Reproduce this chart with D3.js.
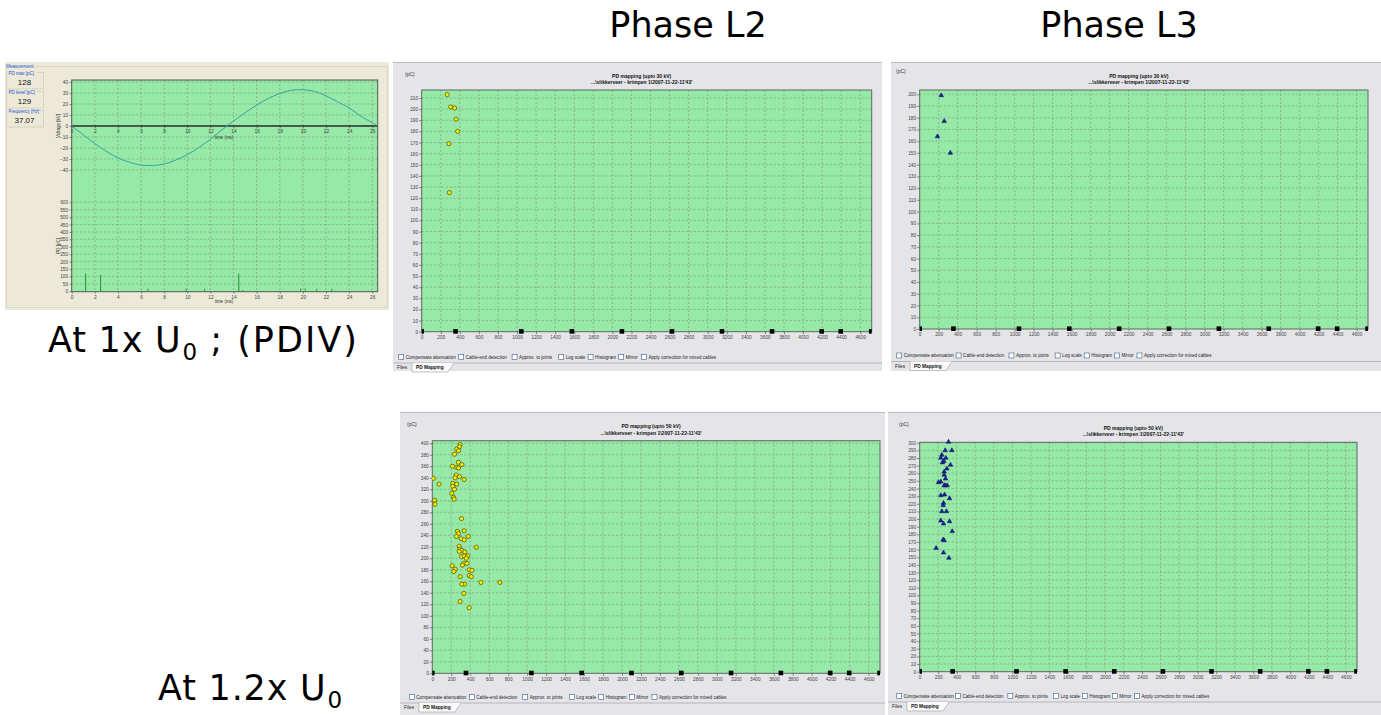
<!DOCTYPE html>
<html>
<head>
<meta charset="utf-8">
<script src="https://cdn.jsdelivr.net/npm/d3@7"></script>
<style>
  body { margin: 0; background: #ffffff; }
  svg { display: block; }
  .small { font-family: "Liberation Sans", Arial, sans-serif; }
  .big { font-family: "DejaVu Sans", Verdana, sans-serif; }
</style>
</head>
<body>
<svg id="chart" width="1381" height="715"></svg>
<script>
// ---------- data ----------
// cable joint positions along the route (m)
const jointPositions = [0, 355, 1045, 1575, 2100, 2625, 3150, 3675, 4195, 4395, 4715];
const distanceMax = 4720;
const distanceTicks = [0, 200, 400, 600, 800, 1000, 1200, 1400, 1600, 1800, 2000, 2200, 2400,
  2600, 2800, 3000, 3200, 3400, 3600, 3800, 4000, 4200, 4400, 4600];

// PD locations [distance m, charge pC]
const phaseL2At1x = [[268, 213], [305, 202], [345, 201], [360, 191], [378, 180], [285, 169], [290, 125]];
const phaseL3At1x = [[227, 199], [258, 177], [187, 164], [322, 150]];
const phaseL2At12x = [
  [294, 398], [287, 394], [258, 390], [276, 387], [234, 381], [276, 367], [312, 363], [258, 358],
  [212, 360], [276, 357], [251, 345], [241, 340], [287, 342], [336, 337], [11, 339], [71, 329],
  [216, 330], [258, 329], [216, 325], [234, 320], [205, 313], [223, 306], [230, 303], [25, 301],
  [28, 294], [308, 269], [265, 247], [336, 248], [276, 243], [255, 238], [379, 238], [304, 234],
  [336, 232], [464, 219], [283, 221], [290, 216], [311, 214], [283, 212], [343, 211], [308, 203],
  [336, 204], [375, 204], [358, 200], [333, 191], [365, 191], [318, 188], [209, 187], [241, 181],
  [227, 177], [389, 180], [418, 179], [389, 170], [411, 168], [294, 168], [340, 155], [311, 155],
  [513, 158], [712, 158], [333, 139], [294, 125], [389, 114]
];
const phaseL3At12x = [
  [311, 301], [275, 290], [347, 290], [239, 284], [282, 280], [228, 280], [261, 276], [246, 274],
  [333, 271], [293, 266], [264, 262], [264, 258], [279, 253], [203, 248], [228, 249], [275, 244],
  [297, 244], [264, 244], [228, 231], [268, 232], [322, 227], [257, 221], [253, 218], [239, 210],
  [289, 210], [228, 198], [257, 194], [322, 197], [351, 184], [253, 173], [264, 172], [177, 162],
  [257, 156], [315, 149]
];

const chargeTicks30L2 = [0, 10, 20, 30, 40, 50, 60, 70, 80, 90, 100, 110, 120, 130, 140, 150, 160, 170, 180, 190, 200, 210];
const chargeTicks30L3 = [0, 10, 20, 30, 40, 50, 60, 70, 80, 90, 100, 110, 120, 130, 140, 150, 160, 170, 180, 190, 200];
const chargeTicks50L2 = [0, 20, 40, 60, 80, 100, 120, 140, 160, 180, 200, 220, 240, 260, 280, 300, 320, 340, 360, 380, 400];
const chargeTicks50L3 = [0, 10, 20, 30, 40, 50, 60, 70, 80, 90, 100, 110, 120, 130, 140, 150, 160, 170, 180, 190, 200,
  210, 220, 230, 240, 250, 260, 270, 280, 290, 300];

const optionLabels = ["Compensate attenuation", "Cable-end detection", "Approx. to joints", "Log scale",
  "Histogram", "Mirror", "Apply correction for mixed cables"];
const tabLabels = ["Files", "PD Mapping"];

// oscilloscope trace: test voltage and PD pulses
const waveTime = [0, 1, 2, 3, 4, 5, 6, 7, 8, 9, 10, 11, 12, 13, 14, 15, 16, 17, 18, 19, 20, 21, 22, 23, 24, 25, 26, 26.4];
const waveVoltage = [0, -8, -16, -23, -29, -33, -35.5, -36, -34.5, -31, -26, -19.5, -12, -3.5, 4.5, 12, 19, 25,
  29.5, 32.5, 33, 31.5, 27.5, 22, 16.5, 9, 3, 0.5];
const pulseTime = [1.2, 2.5, 6.6, 9.9, 11.5, 14.45, 14.8, 19.8, 20.2, 21.2, 22.5];
const pulseCharge = [120, 110, 18, 18, 18, 120, 8, 18, 20, 18, 18];
const timeTicks = [0, 2, 4, 6, 8, 10, 12, 14, 16, 18, 20, 22, 24, 26];
const voltageTicks = [40, 30, 20, 10, 0, -10, -20, -30, -40];
const pdTicks = [600, 550, 500, 450, 400, 350, 300, 250, 200, 150, 100, 50, 0];
const measureLabels = ["PD max [pC]", "PD level [pC]", "Frequency [Hz]"];
const measureValues = ["128", "129", "37.07"];

// ---------- drawing ----------
const svg = d3.select("#chart");
const GREEN = "#96e9a6";
const GRID = "#7f9f86";
const PANEL = "#e5e5e9";
const TICKFONT = 4.8;

function styleAxis(sel) {
  sel.selectAll("path.domain").remove();
  sel.selectAll(".tick line").attr("stroke", "#555").attr("stroke-width", 0.7);
  sel.selectAll(".tick text").attr("class", "small").attr("font-size", TICKFONT).attr("fill", "#444");
}

let clipId = 0;
function drawMapPanel(cfg) {
  const g = svg.append("g");
  const p = cfg.panel;
  g.append("rect").attr("x", p.x).attr("y", p.y).attr("width", p.w).attr("height", p.h)
    .attr("fill", PANEL);
  g.append("line").attr("x1", p.x).attr("x2", p.x + p.w).attr("y1", p.y + 0.5).attr("y2", p.y + 0.5)
    .attr("stroke", "#b9b9bf").attr("stroke-width", 1);

  const x = d3.scaleLinear().domain([0, distanceMax]).range([cfg.x0, cfg.x1]);
  const y = d3.scaleLinear().domain([0, cfg.yMax]).range([cfg.y1, cfg.y0]);

  g.append("rect").attr("x", cfg.x0).attr("y", cfg.y0).attr("width", cfg.x1 - cfg.x0)
    .attr("height", cfg.y1 - cfg.y0).attr("fill", GREEN);

  // grid
  g.append("g").selectAll("line").data(distanceTicks.filter(d => d > 0)).join("line")
    .attr("x1", d => x(d)).attr("x2", d => x(d)).attr("y1", cfg.y0).attr("y2", cfg.y1)
    .attr("stroke", GRID).attr("stroke-width", 0.7).attr("stroke-dasharray", "2,2");
  g.append("g").selectAll("line").data(cfg.yTicks.filter(d => d > 0)).join("line")
    .attr("x1", cfg.x0).attr("x2", cfg.x1).attr("y1", d => y(d)).attr("y2", d => y(d))
    .attr("stroke", GRID).attr("stroke-width", 0.7).attr("stroke-dasharray", "2,2");

  // axes
  g.append("g").attr("transform", `translate(0,${cfg.y1})`)
    .call(d3.axisBottom(x).tickValues(distanceTicks).tickSize(2.5).tickPadding(1.5).tickFormat(d3.format("d")))
    .call(styleAxis);
  g.append("g").attr("transform", `translate(${cfg.x0},0)`)
    .call(d3.axisLeft(y).tickValues(cfg.yTicks).tickSize(2.5).tickPadding(1).tickFormat(d3.format("d")))
    .call(styleAxis);

  // plot frame
  g.append("rect").attr("x", cfg.x0).attr("y", cfg.y0).attr("width", cfg.x1 - cfg.x0)
    .attr("height", cfg.y1 - cfg.y0).attr("fill", "none").attr("stroke", "#5a6a5e").attr("stroke-width", 1);

  const id = "clip" + (clipId++);
  g.append("clipPath").attr("id", id).append("rect")
    .attr("x", cfg.x0).attr("y", cfg.y0 - 4).attr("width", cfg.x1 - cfg.x0).attr("height", cfg.y1 - cfg.y0 + 8);
  const inner = g.append("g").attr("clip-path", `url(#${id})`);

  // joints on the cable route
  inner.selectAll("rect.joint").data(jointPositions).join("rect").attr("class", "joint")
    .attr("x", d => x(d) - 2.3).attr("y", cfg.y1 - 2.6).attr("width", 4.6).attr("height", 4.6)
    .attr("fill", "#000");

  // PD sites
  if (cfg.marker === "circle") {
    inner.selectAll("circle.pd").data(cfg.points).join("circle").attr("class", "pd")
      .attr("cx", d => x(d[0])).attr("cy", d => y(d[1])).attr("r", 2.1)
      .attr("fill", "#f5ee00").attr("stroke", "#5e5a10").attr("stroke-width", 0.8);
  } else {
    const tri = d3.symbol().type(d3.symbolTriangle).size(9);
    inner.selectAll("path.pd").data(cfg.points).join("path").attr("class", "pd")
      .attr("transform", d => `translate(${x(d[0])},${y(d[1])})`).attr("d", tri)
      .attr("fill", "#1a22a4").attr("stroke", "#0a0a50").attr("stroke-width", 0.5);
  }

  // titles
  const cx = (cfg.x0 + cfg.x1) / 2 - 5;
  g.append("text").attr("class", "small").attr("x", cx).attr("y", cfg.y0 - 12.5)
    .attr("text-anchor", "middle").attr("font-size", 5).attr("font-weight", "bold").attr("fill", "#111")
    .text(cfg.title);
  g.append("text").attr("class", "small").attr("x", cx).attr("y", cfg.y0 - 6)
    .attr("text-anchor", "middle").attr("font-size", 5).attr("font-weight", "bold").attr("fill", "#111")
    .text("...\\slikkerveer - krimpen 1\\2007-11-22-11'43'");
  g.append("text").attr("class", "small").attr("x", cfg.pcX).attr("y", cfg.pcY)
    .attr("font-size", 5).attr("fill", "#333").text("(pC)");

  // option check boxes
  const offsets = [0, 60, 113.4, 160, 189.4, 220, 242.7];
  const cb = g.append("g").selectAll("g").data(optionLabels).join("g")
    .attr("transform", (d, i) => `translate(${cfg.x0 - 23 + offsets[i] * cfg.cbScale},${cfg.cbY})`);
  cb.append("rect").attr("x", 0).attr("y", -2.5).attr("width", 5).attr("height", 5)
    .attr("fill", "#fff").attr("stroke", "#3a5a8c").attr("stroke-width", 0.6);
  cb.append("text").attr("class", "small").attr("x", 7).attr("y", 1.7).attr("font-size", 4.6)
    .attr("fill", "#222").text(d => d);

  // tab strip
  const ty = cfg.cbY + 6;
  g.append("line").attr("x1", p.x).attr("x2", p.x + p.w).attr("y1", ty).attr("y2", ty)
    .attr("stroke", "#a8a8ae").attr("stroke-width", 0.8);
  g.append("path")
    .attr("d", `M${p.x + 19},${ty} L${p.x + 19},${ty + 9} L${p.x + 55},${ty + 9} L${p.x + 61},${ty}`)
    .attr("fill", "#fbfbfb").attr("stroke", "#9a9aa0").attr("stroke-width", 0.6);
  g.append("text").attr("class", "small").attr("x", p.x + 4).attr("y", ty + 6.3).attr("font-size", 4.8)
    .attr("fill", "#222").text(tabLabels[0]);
  g.append("text").attr("class", "small").attr("x", p.x + 23).attr("y", ty + 6.3).attr("font-size", 4.8)
    .attr("font-weight", "bold").attr("fill", "#111").text(tabLabels[1]);
}

drawMapPanel({
  panel: { x: 393, y: 62, w: 489, h: 309 }, x0: 421.7, x1: 871.7, y0: 90, y1: 331.7,
  yMax: 217.2, yTicks: chargeTicks30L2, points: phaseL2At1x, marker: "circle",
  title: "PD mapping (upto 30 kV)", pcX: 405, pcY: 76, cbY: 357, cbScale: 1
});
drawMapPanel({
  panel: { x: 891, y: 62, w: 490, h: 309 }, x0: 919.7, x1: 1368, y0: 90, y1: 329,
  yMax: 203.6, yTicks: chargeTicks30L3, points: phaseL3At1x, marker: "triangle",
  title: "PD mapping (upto 30 kV)", pcX: 896, pcY: 73, cbY: 355.5, cbScale: 0.99
});
drawMapPanel({
  panel: { x: 400, y: 412, w: 485, h: 303 }, x0: 432.3, x1: 880, y0: 440.7, y1: 673.3,
  yMax: 404.5, yTicks: chargeTicks50L2, points: phaseL2At12x, marker: "circle",
  title: "PD mapping (upto 50 kV)", pcX: 407, pcY: 426, cbY: 697, cbScale: 1
});
drawMapPanel({
  panel: { x: 888, y: 412, w: 493, h: 303 }, x0: 919.7, x1: 1357, y0: 442.3, y1: 671.7,
  yMax: 300.6, yTicks: chargeTicks50L3, points: phaseL3At12x, marker: "triangle",
  title: "PD mapping (upto 50 kV)", pcX: 899, pcY: 426, cbY: 696, cbScale: 0.98
});

// ---------- oscilloscope panel ----------
(function () {
  const g = svg.append("g");
  g.append("rect").attr("x", 5).attr("y", 62).attr("width", 384).attr("height", 248).attr("fill", "#ece9d8");
  g.append("rect").attr("x", 6.5).attr("y", 66.5).attr("width", 381).attr("height", 241)
    .attr("fill", "none").attr("stroke", "#d6d3c2").attr("stroke-width", 0.8);
  g.append("rect").attr("x", 5).attr("y", 64).attr("width", 28).attr("height", 5).attr("fill", "#ece9d8");
  g.append("text").attr("class", "small").attr("x", 6).attr("y", 68).attr("font-size", 4.5)
    .attr("fill", "#2050d0").text("Measurement");

  // measurement read-outs
  const boxTop = [72, 91, 110];
  const mb = g.append("g").selectAll("g").data(measureLabels).join("g")
    .attr("transform", (d, i) => `translate(6,${boxTop[i]})`);
  mb.append("rect").attr("x", 0.5).attr("y", 0.5).attr("width", 37).attr("height", 16.5)
    .attr("fill", "#ece9d8").attr("stroke", "#d0cdbc").attr("stroke-width", 0.8);
  mb.append("rect").attr("x", 1).attr("y", -1).attr("width", 30).attr("height", 3).attr("fill", "#ece9d8");
  mb.append("text").attr("class", "small").attr("x", 2.5).attr("y", 2.5).attr("font-size", 4.5)
    .attr("fill", "#2050d0").text(d => d);
  mb.append("text").attr("class", "small").attr("x", 18.5).attr("y", 12.5).attr("text-anchor", "middle")
    .attr("font-size", 8).attr("fill", "#111").text((d, i) => measureValues[i]);

  const x0 = 71.7, x1 = 377.7, y0 = 80, y1 = 291.7;
  const t = d3.scaleLinear().domain([0, 26.47]).range([x0, x1]);
  const v = d3.scaleLinear().domain([-40, 40]).range([170, 82]);
  const q = d3.scaleLinear().domain([0, 600]).range([291.2, 202.3]);

  g.append("rect").attr("x", x0).attr("y", y0).attr("width", x1 - x0).attr("height", y1 - y0).attr("fill", GREEN);

  g.append("g").selectAll("line").data(timeTicks.filter(d => d > 0)).join("line")
    .attr("x1", d => t(d)).attr("x2", d => t(d)).attr("y1", y0).attr("y2", y1)
    .attr("stroke", GRID).attr("stroke-width", 0.7).attr("stroke-dasharray", "2,2");
  g.append("g").selectAll("line").data(voltageTicks.filter(d => d !== 0)).join("line")
    .attr("x1", x0).attr("x2", x1).attr("y1", d => v(d)).attr("y2", d => v(d))
    .attr("stroke", GRID).attr("stroke-width", 0.7).attr("stroke-dasharray", "2,2");
  g.append("g").selectAll("line").data(pdTicks.filter(d => d > 0)).join("line")
    .attr("x1", x0).attr("x2", x1).attr("y1", d => q(d)).attr("y2", d => q(d))
    .attr("stroke", GRID).attr("stroke-width", 0.7).attr("stroke-dasharray", "2,2");

  // axes
  g.append("g").attr("transform", `translate(0,${v(0)})`)
    .call(d3.axisBottom(t).tickValues(timeTicks).tickSize(2).tickPadding(2))
    .call(styleAxis);
  g.append("g").attr("transform", `translate(0,${y1})`)
    .call(d3.axisBottom(t).tickValues(timeTicks).tickSize(2).tickPadding(1.5))
    .call(styleAxis);
  g.append("g").attr("transform", `translate(${x0},0)`)
    .call(d3.axisLeft(v).tickValues(voltageTicks).tickSize(2).tickPadding(1.5))
    .call(styleAxis);
  g.append("g").attr("transform", `translate(${x0},0)`)
    .call(d3.axisLeft(q).tickValues(pdTicks).tickSize(2).tickPadding(1.5))
    .call(styleAxis);

  // zero line
  g.append("line").attr("x1", x0).attr("x2", x1).attr("y1", v(0)).attr("y2", v(0))
    .attr("stroke", "#2a2a2a").attr("stroke-width", 1.4);

  // test voltage
  const line = d3.line().x((d, i) => t(waveTime[i])).y(d => v(d)).curve(d3.curveCatmullRom);
  g.append("path").datum(waveVoltage).attr("d", line).attr("fill", "none")
    .attr("stroke", "#35a5a0").attr("stroke-width", 1);

  // PD pulses
  g.append("g").selectAll("line").data(pulseTime).join("line")
    .attr("x1", d => t(d)).attr("x2", d => t(d)).attr("y1", q(0)).attr("y2", (d, i) => q(pulseCharge[i]))
    .attr("stroke", "#2b9c3c").attr("stroke-width", (d, i) => pulseCharge[i] > 100 ? 1.1 : 0.9);

  // frame
  g.append("rect").attr("x", x0).attr("y", y0).attr("width", x1 - x0).attr("height", y1 - y0)
    .attr("fill", "none").attr("stroke", "#4d5a50").attr("stroke-width", 1);

  // axis titles
  g.append("text").attr("class", "small").attr("x", 224).attr("y", 138.5).attr("text-anchor", "middle")
    .attr("font-size", 4.5).attr("fill", "#333").text("time (ms)");
  g.append("text").attr("class", "small").attr("x", 224).attr("y", 302.5).attr("text-anchor", "middle")
    .attr("font-size", 4.5).attr("fill", "#333").text("time (ms)");
  g.append("text").attr("class", "small").attr("transform", "translate(60,126) rotate(-90)")
    .attr("text-anchor", "middle").attr("font-size", 4.5).attr("fill", "#333").text("Voltage [kV]");
  g.append("text").attr("class", "small").attr("transform", "translate(60,246) rotate(-90)")
    .attr("text-anchor", "middle").attr("font-size", 4.5).attr("fill", "#333").text("PD [pC]");
})();

// ---------- headings ----------
svg.append("text").attr("class", "big").attr("x", 688).attr("y", 37).attr("text-anchor", "middle")
  .attr("font-size", 35).attr("fill", "#000").text("Phase L2");
svg.append("text").attr("class", "big").attr("x", 1119).attr("y", 37).attr("text-anchor", "middle")
  .attr("font-size", 35).attr("fill", "#000").text("Phase L3");

function voltageLabel(xPos, yPos, before, after) {
  const tx = svg.append("text").attr("class", "big").attr("x", xPos).attr("y", yPos)
    .attr("font-size", 35).attr("fill", "#000");
  tx.append("tspan").attr("letter-spacing", 0.8).text(before);
  tx.append("tspan").attr("font-size", 23).attr("dy", 8).attr("dx", 1).text("0");
  if (after) tx.append("tspan").attr("dy", -8).attr("letter-spacing", 2).text(after);
  return tx;
}
voltageLabel(48, 352, "At 1x U", " ; (PDIV)");
voltageLabel(158, 700, "At 1.2x U", "");
</script>
</body>
</html>
